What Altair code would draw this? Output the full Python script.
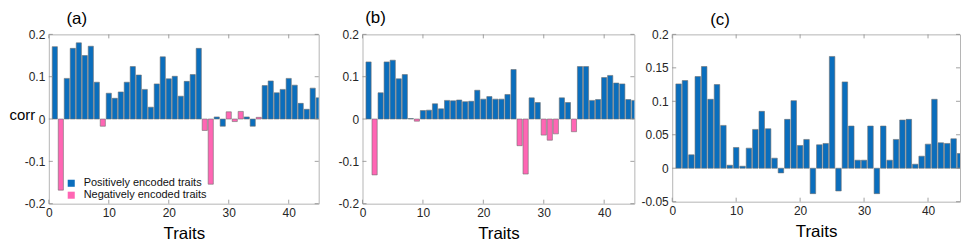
import altair as alt
import pandas as pd

traits = list(range(1, 46))
neg_traits = [2, 9, 26, 27, 30, 31, 32, 35]

corr_a = [0.171, -0.168, 0.096, 0.167, 0.180, 0.150, 0.172, 0.087, -0.017, 0.061,
          0.049, 0.064, 0.087, 0.124, 0.104, 0.070, 0.028, 0.083, 0.147, 0.095,
          0.101, 0.054, 0.089, 0.105, 0.167, -0.027, -0.154, 0.005, -0.017, 0.017,
          -0.006, 0.018, 0.005, -0.017, 0.004, 0.079, 0.090, 0.062, 0.070, 0.096,
          0.080, 0.037, 0.023, 0.073, 0.050]
corr_b = [0.135, -0.132, 0.062, 0.135, 0.139, 0.095, 0.105, 0.001, -0.005, 0.020,
          0.021, 0.036, 0.024, 0.044, 0.043, 0.045, 0.041, 0.042, 0.068, 0.047,
          0.053, 0.047, 0.047, 0.058, 0.117, -0.063, -0.130, 0.050, 0.039, -0.038,
          -0.050, -0.035, 0.050, 0.039, -0.030, 0.124, 0.124, 0.044, 0.046, 0.098,
          0.103, 0.085, 0.083, 0.046, 0.044]
corr_c = [0.126, 0.131, 0.020, 0.137, 0.152, 0.103, 0.125, 0.064, 0.0045, 0.031,
          0.003, 0.030, 0.058, 0.085, 0.059, 0.015, -0.007, 0.073, 0.101, 0.034,
          0.043, -0.038, 0.035, 0.037, 0.167, -0.034, 0.129, 0.063, 0.012, 0.012,
          0.063, -0.038, 0.063, 0.012, 0.043, 0.072, 0.073, 0.006, 0.018, 0.036,
          0.103, 0.038, 0.037, 0.044, 0.022]

x_ticks = [0, 10, 20, 30, 40]
y_ticks_ab = [-0.2, -0.1, 0, 0.1, 0.2]
y_ticks_c = [-0.05, 0, 0.05, 0.1, 0.15, 0.2]

POS = "Positively encoded traits"
NEG = "Negatively encoded traits"
BLUE = "#0a6ebd"
PINK = "#ff66b4"
FONT = "Liberation Sans"
TICKC = "#8a8a8a"

LABEL_EXPR = ("datum.value == 0 ? '0' : (datum.value < 0 ? '-' : '') + "
              "format(abs(datum.value), '.2~f')")


def panel(vals, negs, w, h, ydom, yticks, label, lx, ly, corr_title, legend):
    df = pd.DataFrame({
        "trait": traits,
        "corr": vals,
        "enc": [NEG if t in negs else POS for t in traits],
    })
    xs = alt.Scale(domain=[0, 45], nice=False, zero=False)
    ys = alt.Scale(domain=ydom, nice=False, zero=False)

    yaxis_kw = dict(values=yticks, labelExpr=LABEL_EXPR, grid=False,
                    domain=False, ticks=False, labelPadding=4,
                    labelOverlap=False, labelFlush=False)
    if corr_title:
        yaxis = alt.Axis(title="corr", titleAngle=0, titleAlign="left",
                         titleBaseline="middle", titleX=-40, titleY=80,
                         titleFontSize=15, **yaxis_kw)
    else:
        yaxis = alt.Axis(title=None, **yaxis_kw)
    xaxis = alt.Axis(values=x_ticks, title="Traits", grid=False,
                     domain=False, ticks=False, labelPadding=4,
                     labelFlush=False, labelOverlap=False,
                     titleFontSize=17, titlePadding=7)

    color_kw = dict(scale=alt.Scale(domain=[POS, NEG], range=[BLUE, PINK]),
                    sort=[POS, NEG])
    if legend:
        leg = alt.Legend(title=None, orient="none", legendX=17, legendY=144,
                         symbolType="square", symbolSize=50,
                         symbolStrokeWidth=0, labelFontSize=11,
                         labelFont=FONT, labelColor="#111111",
                         labelOffset=7, rowPadding=0, padding=0)
        color = alt.Color("enc:N", legend=leg, **color_kw)
    else:
        color = alt.Color("enc:N", legend=None, **color_kw)

    bars = alt.Chart(df).transform_calculate(
        x0="datum.trait - 0.43", x1="datum.trait + 0.43"
    ).mark_bar(stroke="#6f6f6f", strokeWidth=0.6, clip=True).encode(
        x=alt.X("x0:Q", scale=xs, axis=xaxis),
        x2="x1:Q",
        y=alt.Y("corr:Q", scale=ys, axis=yaxis),
        y2=alt.datum(0),
        color=color,
    )

    ydf = pd.DataFrame({"v": yticks})
    xdf = pd.DataFrame({"v": x_ticks})
    tl = alt.Chart(ydf).mark_rule(color=TICKC, strokeWidth=0.8).encode(
        y=alt.Y("v:Q", scale=ys, axis=yaxis), x=alt.value(0), x2=alt.value(4))
    tr = alt.Chart(ydf).mark_rule(color=TICKC, strokeWidth=0.8).encode(
        y=alt.Y("v:Q", scale=ys, axis=yaxis), x=alt.value(w - 4), x2=alt.value(w))
    tb = alt.Chart(xdf).mark_rule(color=TICKC, strokeWidth=0.8).encode(
        x=alt.X("v:Q", scale=xs, axis=xaxis), y=alt.value(h - 4), y2=alt.value(h))
    tt = alt.Chart(xdf).mark_rule(color=TICKC, strokeWidth=0.8).encode(
        x=alt.X("v:Q", scale=xs, axis=xaxis), y=alt.value(0), y2=alt.value(4))

    lab = alt.Chart(pd.DataFrame({"t": [label]})).mark_text(
        fontSize=17, font=FONT, color="#000000", baseline="middle",
        align="center").encode(text="t:N", x=alt.value(lx), y=alt.value(ly))

    return alt.layer(bars, tl, tr, tb, tt, lab).properties(width=w, height=h)


def spacer(w, h):
    return alt.Chart(pd.DataFrame({"t": [""]})).mark_text().encode(
        text="t:N").properties(width=w, height=h,
                               view=alt.ViewBackground(stroke="transparent"))


pa = panel(corr_a, neg_traits, 271, 170, [-0.2, 0.2], y_ticks_ab,
           "(a)", 28, -15, True, True)
pb = panel(corr_b, neg_traits, 273, 170, [-0.2, 0.2], y_ticks_ab,
           "(b)", 13, -16, False, False)
pc = panel(corr_c, [], 289, 168, [-0.05, 0.2], y_ticks_c,
           "(c)", 48, -14, False, False)

chart = alt.hconcat(pa, spacer(44, 170), pb, spacer(38, 170), pc,
                    spacing=0, bounds="flush").resolve_scale(
    color="independent"
).properties(
    padding={"left": 0, "top": 0, "right": 0, "bottom": 0}
).configure_view(
    stroke="#b4b4b4", strokeWidth=1
).configure_axis(
    labelFont=FONT, titleFont=FONT, labelFontSize=12, labelColor="#262626",
    titleColor="#000000", titleFontWeight="normal", labelOverlap=False
)

chart.save("out.html", embed_options={"renderer": "svg", "actions": False})
